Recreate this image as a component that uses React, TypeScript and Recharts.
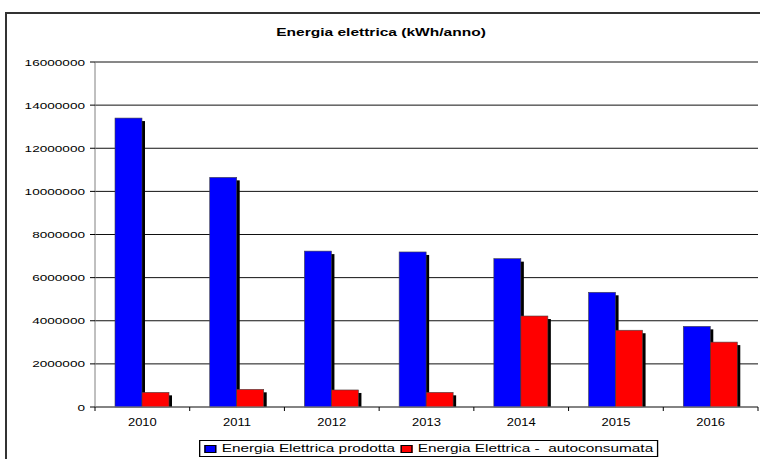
import { BarChart, Bar, XAxis, YAxis, CartesianGrid } from "recharts";

const YEARS = ["2010", "2011", "2012", "2013", "2014", "2015", "2016"];
const PRODOTTA = [13400000, 10650000, 7230000, 7190000, 6880000, 5320000, 3740000];
const AUTOCONSUMATA = [680000, 820000, 790000, 680000, 4220000, 3560000, 3010000];
const Y_TICKS = [0, 2000000, 4000000, 6000000, 8000000, 10000000, 12000000, 14000000, 16000000];

const BLUE = "#0000ff";
const RED = "#ff0000";
const FONT = "'Liberation Sans', Arial, sans-serif";

const W = 760;
const H = 459;
const PLOT_LEFT = 95;
const PLOT_RIGHT = 758;
const BAND = (PLOT_RIGHT - PLOT_LEFT) / YEARS.length;

const data = YEARS.map((year, i) => ({
  year,
  prodotta: PRODOTTA[i],
  autoconsumata: AUTOCONSUMATA[i],
}));

// bar with a black drop shadow to the lower right
function ShadowBar(props: any) {
  const { x, y, width, height, fill } = props;
  if (!height || height <= 0) return null;
  return (
    <g>
      <rect x={x + 3} y={y + 3} width={width} height={Math.max(height - 3, 0)} fill="#000" />
      <rect x={x} y={y} width={width} height={height} fill={fill} stroke="#444" strokeWidth={0.6} />
    </g>
  );
}

function YTick({ x, y, payload }: any) {
  return (
    <g transform={`translate(${x},${y}) scale(1.4,1)`}>
      <text x={0} y={0} dy={3.5} textAnchor="end" fontSize={9.7} fontFamily={FONT} fill="#000">
        {payload.value}
      </text>
    </g>
  );
}

function XTick({ x, y, payload, index }: any) {
  const left = x - BAND / 2;
  return (
    <g>
      <line x1={left} x2={left} y1={y} y2={y + 4} stroke="#000" />
      <g transform={`translate(${x},${y + 19}) scale(1.3,1)`}>
        <text x={0} y={0} textAnchor="middle" fontSize={10} fontFamily={FONT} fill="#000">
          {payload.value}
        </text>
      </g>
      {index === YEARS.length - 1 && (
        <line x1={x + BAND / 2} x2={x + BAND / 2} y1={y} y2={y + 4} stroke="#000" />
      )}
    </g>
  );
}

function LegendItem({ color, label }: { color: string; label: string }) {
  return (
    <span style={{ display: "inline-flex", alignItems: "center", marginRight: 4 }}>
      <span
        style={{
          display: "inline-block",
          width: 7,
          height: 6,
          background: color,
          border: "1px solid #000",
          marginRight: 4,
        }}
      />
      <span>{label}</span>
    </span>
  );
}

export default function App() {
  return (
    <div
      style={{
        position: "absolute",
        left: 0,
        top: 0,
        width: W,
        height: H,
        overflow: "hidden",
        background: "#fff",
        fontFamily: FONT,
      }}
    >
      {/* outer frame, only the top and left edges are inside the picture */}
      <div
        style={{
          position: "absolute",
          left: 5,
          top: 12,
          width: 755,
          height: 447,
          borderTop: "2px solid #333",
          borderLeft: "2px solid #333",
        }}
      />
      <div
        style={{
          position: "absolute",
          left: 381,
          top: 26,
          fontSize: 11.5,
          fontWeight: "bold",
          whiteSpace: "nowrap",
          transform: "translateX(-50%) scaleX(1.35)",
          transformOrigin: "50% 0",
        }}
      >
        Energia elettrica (kWh/anno)
      </div>
      <div style={{ position: "absolute", left: 0, top: 0 }}>
        <BarChart
          width={W}
          height={H}
          data={data}
          margin={{ top: 62, right: W - PLOT_RIGHT, bottom: 22, left: 8 }}
          barSize={27}
          barGap={0}
        >
          <CartesianGrid vertical={false} stroke="#111" />
          <XAxis
            dataKey="year"
            height={30}
            axisLine={{ stroke: "#808080" }}
            tickLine={false}
            tickSize={0}
            tickMargin={0}
            interval={0}
            tick={<XTick />}
          />
          <YAxis
            width={87}
            domain={[0, 16000000]}
            ticks={Y_TICKS}
            interval={0}
            axisLine={{ stroke: "#808080" }}
            tickLine={{ stroke: "#000" }}
            tickSize={5}
            tickMargin={5}
            tick={<YTick />}
          />
          <Bar dataKey="prodotta" fill={BLUE} shape={<ShadowBar />} isAnimationActive={false} />
          <Bar dataKey="autoconsumata" fill={RED} shape={<ShadowBar />} isAnimationActive={false} />
        </BarChart>
      </div>
      <div
        style={{
          position: "absolute",
          left: 199,
          top: 440,
          width: 344,
          height: 17,
          border: "1px solid #000",
          boxSizing: "border-box",
          fontSize: 11.5,
          lineHeight: "15px",
          paddingLeft: 3,
          whiteSpace: "pre",
          transform: "scaleX(1.335)",
          transformOrigin: "0 0",
          display: "flex",
          alignItems: "center",
        }}
      >
        <LegendItem color={BLUE} label="Energia Elettrica prodotta" />
        <LegendItem color={RED} label="Energia Elettrica -  autoconsumata" />
      </div>
    </div>
  );
}
